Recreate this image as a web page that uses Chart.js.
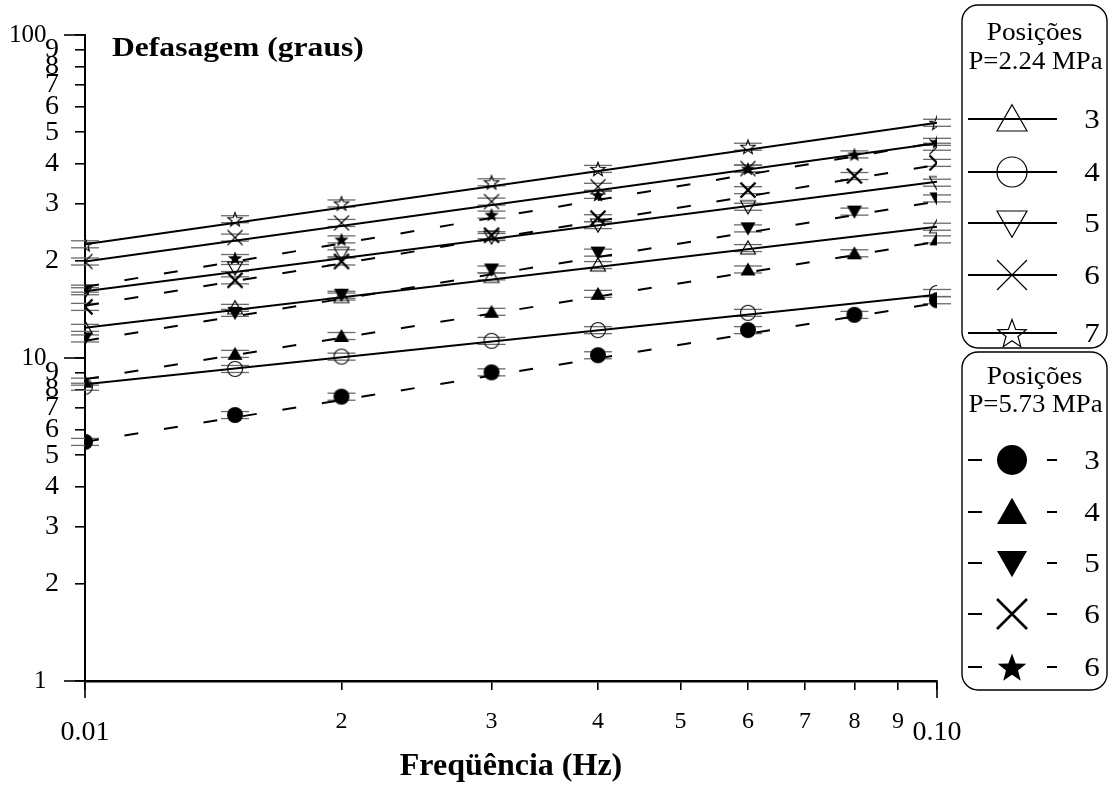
<!DOCTYPE html>
<html><head><meta charset="utf-8">
<script src="https://cdn.jsdelivr.net/npm/chart.js@4/dist/chart.umd.min.js"></script>
<style>html,body{margin:0;padding:0;background:#fff;}canvas{display:block;}</style>
</head><body>
<canvas id="c" width="1110" height="787"></canvas>
<script>
// ---------------- DATA ----------------
const FREQ_OPEN   = [0.01, 0.015, 0.02, 0.03, 0.04, 0.06, 0.10];
const FREQ_FILLED = [0.01, 0.015, 0.02, 0.03, 0.04, 0.06, 0.08, 0.10];
const FIT_FREQ    = [0.01, 0.10];

// P = 2.24 MPa (open symbols)
const P224_POS3 = [12.4, 14.3, 15.5, 17.9, 19.4, 21.9, 25.5];
const P224_POS4 = [8.15, 9.25, 10.1, 11.3, 12.2, 13.8, 15.9];
const P224_POS5 = [16.1, 19.0, 21.1, 23.7, 25.8, 29.4, 34.9];
const P224_POS6 = [19.9, 23.6, 26.2, 30.5, 33.9, 38.6, 45.1];
const P224_POS7 = [22.5, 26.9, 30.1, 35.0, 38.5, 45.1, 53.5];
const P224_FIT3 = [12.4, 25.5];
const P224_FIT4 = [8.3, 15.7];
const P224_FIT5 = [16.1, 35.1];
const P224_FIT6 = [19.9, 46.2];
const P224_FIT7 = [22.5, 53.5];

// P = 5.73 MPa (filled symbols)
const P573_POS3  = [5.5, 6.66, 7.59, 9.03, 10.2, 12.2, 13.6, 15.1];
const P573_POS4  = [8.45, 10.3, 11.7, 13.9, 15.8, 18.8, 21.1, 23.3];
const P573_POS5  = [11.5, 13.8, 15.7, 18.8, 21.2, 25.2, 28.4, 31.2];
const P573_POS6  = [14.4, 17.4, 19.9, 24.0, 27.1, 33.1, 36.6, 40.2];
const P573_POS6B = [16.4, 20.4, 23.3, 27.8, 32.0, 38.6, 42.7, 46.7];
const P573_FIT3  = [5.5, 14.8];
const P573_FIT4  = [8.6, 22.9];
const P573_FIT5  = [11.3, 30.5];
const P573_FIT6  = [14.5, 39.6];
const P573_FIT6B = [16.6, 46.5];

const ERROR_FRACTION = 0.025;

const X_TICKS = [0.01, 0.02, 0.03, 0.04, 0.05, 0.06, 0.07, 0.08, 0.09, 0.10];
const X_TICK_LABELS = ['0.01', '2', '3', '4', '5', '6', '7', '8', '9', '0.10'];
const Y_TICKS = [1, 2, 3, 4, 5, 6, 7, 8, 9, 10, 20, 30, 40, 50, 60, 70, 80, 90, 100];
const Y_TICK_LABELS = ['1', '2', '3', '4', '5', '6', '7', '8', '9', '10', '2', '3', '4', '5', '6', '7', '8', '9', '100'];

const X_TITLE = 'Freqüência (Hz)';
const Y_TITLE = 'Defasagem (graus)';
const LEGEND1_TITLE = ['Posições', 'P=2.24 MPa'];
const LEGEND2_TITLE = ['Posições', 'P=5.73 MPa'];
const LEGEND1_LABELS = ['3', '4', '5', '6', '7'];
const LEGEND2_LABELS = ['3', '4', '5', '6', '6'];

// ---------------- STYLE ----------------
const SERIF = '"Liberation Serif", "Times New Roman", serif';
const OPEN_SERIES = [
  {vals: P224_POS3, fit: P224_FIT3, kind: 'tri',  filled: false},
  {vals: P224_POS4, fit: P224_FIT4, kind: 'circ', filled: false},
  {vals: P224_POS5, fit: P224_FIT5, kind: 'dtri', filled: false},
  {vals: P224_POS6, fit: P224_FIT6, kind: 'x',    filled: false},
  {vals: P224_POS7, fit: P224_FIT7, kind: 'star', filled: false},
];
const FILLED_SERIES = [
  {vals: P573_POS3,  fit: P573_FIT3,  kind: 'circ', filled: true},
  {vals: P573_POS4,  fit: P573_FIT4,  kind: 'tri',  filled: true},
  {vals: P573_POS5,  fit: P573_FIT5,  kind: 'dtri', filled: true},
  {vals: P573_POS6,  fit: P573_FIT6,  kind: 'x',    filled: true},
  {vals: P573_POS6B, fit: P573_FIT6B, kind: 'star', filled: true},
];

function drawSym(ctx, kind, filled, cx, cy, r, lw) {
  ctx.save();
  ctx.lineWidth = lw; ctx.strokeStyle = '#000'; ctx.fillStyle = '#000';
  ctx.lineJoin = 'miter';
  ctx.beginPath();
  if (kind === 'tri') {
    ctx.moveTo(cx, cy - r * 0.95); ctx.lineTo(cx + r, cy + r * 0.8); ctx.lineTo(cx - r, cy + r * 0.8); ctx.closePath();
  } else if (kind === 'dtri') {
    ctx.moveTo(cx, cy + r * 0.95); ctx.lineTo(cx + r, cy - r * 0.8); ctx.lineTo(cx - r, cy - r * 0.8); ctx.closePath();
  } else if (kind === 'circ') {
    ctx.arc(cx, cy, r, 0, Math.PI * 2);
  } else if (kind === 'x') {
    ctx.moveTo(cx - r, cy - r); ctx.lineTo(cx + r, cy + r);
    ctx.moveTo(cx + r, cy - r); ctx.lineTo(cx - r, cy + r);
  } else if (kind === 'star') {
    for (let k = 0; k < 10; k++) {
      const a = -Math.PI / 2 + k * Math.PI / 5;
      const rr = (k % 2) ? r * 0.42 : r;
      const px = cx + rr * Math.cos(a), py = cy + rr * Math.sin(a) + r * 0.1;
      if (k === 0) ctx.moveTo(px, py); else ctx.lineTo(px, py);
    }
    ctx.closePath();
  }
  if (kind === 'x' || !filled) ctx.stroke(); else ctx.fill();
  ctx.restore();
}

function symCanvas(kind, filled) {
  const r = kind === 'circ' && filled ? 8 : 7.5;
  const s = 22;
  const cv = document.createElement('canvas');
  cv.width = s; cv.height = s;
  const ctx = cv.getContext('2d');
  const lw = kind === 'x' ? (filled ? 2.4 : 1.1) : 1.1;
  drawSym(ctx, kind, filled, s / 2, s / 2, r, lw);
  return cv;
}

// ---------------- DATASETS ----------------
const datasets = [];
[...FILLED_SERIES, ...OPEN_SERIES].forEach(s => {
  const xs = s.filled ? FREQ_FILLED : FREQ_OPEN;
  datasets.push({
    type: 'line',
    data: s.vals.map((v, i) => ({x: xs[i], y: v})),
    showLine: false,
    pointStyle: symCanvas(s.kind, s.filled),
    pointRadius: 8,
    errorCaps: true,
  });
});
[...OPEN_SERIES, ...FILLED_SERIES].forEach(s => {
  datasets.push({
    type: 'line',
    data: s.fit.map((v, i) => ({x: FIT_FREQ[i], y: v})),
    showLine: true,
    borderColor: '#000',
    borderWidth: 2,
    borderDash: s.filled ? [14, 26] : [],
    pointRadius: 0,
    fill: false,
  });
});

function isPow10(v) { const l = Math.log10(v); return Math.abs(l - Math.round(l)) < 1e-9; }

function stretchText(ctx, text, x, y, font, align, sx) {
  ctx.save();
  ctx.font = font; ctx.fillStyle = '#000';
  ctx.textAlign = align; ctx.textBaseline = 'middle';
  ctx.translate(x, y); ctx.scale(sx, 1);
  ctx.fillText(text, 0, 0);
  ctx.restore();
}

const decorPlugin = {
  id: 'decor',
  beforeDatasetsDraw(chart) {
    const ctx = chart.ctx, ys = chart.scales.y;
    ctx.save();
    ctx.strokeStyle = '#6a6a6a'; ctx.lineWidth = 1.3;
    chart.data.datasets.forEach((ds, i) => {
      if (!ds.errorCaps) return;
      const meta = chart.getDatasetMeta(i);
      meta.data.forEach((pt, j) => {
        const v = ds.data[j].y;
        [v * (1 + ERROR_FRACTION), v * (1 - ERROR_FRACTION)].forEach(e => {
          const py = ys.getPixelForValue(e);
          ctx.beginPath(); ctx.moveTo(pt.x - 14, py); ctx.lineTo(pt.x + 14, py); ctx.stroke();
        });
      });
    });
    ctx.restore();
  },
  afterDraw(chart) {
    const ctx = chart.ctx, xs = chart.scales.x, ys = chart.scales.y;
    const area = chart.chartArea;
    ctx.save();
    ctx.strokeStyle = '#000'; ctx.lineWidth = 1.6;
    // longer major ticks
    X_TICKS.filter(isPow10).forEach(v => {
      const px = xs.getPixelForValue(v);
      ctx.beginPath(); ctx.moveTo(px, area.bottom); ctx.lineTo(px, area.bottom + 17); ctx.stroke();
    });
    Y_TICKS.filter(isPow10).forEach(v => {
      const py = ys.getPixelForValue(v);
      ctx.beginPath(); ctx.moveTo(area.left, py); ctx.lineTo(area.left - 21, py); ctx.stroke();
    });
    ctx.restore();

    // y title inside plot
    stretchText(ctx, Y_TITLE, area.left + 27, area.top + 14, 'bold 27px ' + SERIF, 'left', 1.17);

    // legends
    const boxes = [
      {top: 5, bottom: 348, title: LEGEND1_TITLE, labels: LEGEND1_LABELS, series: OPEN_SERIES,
       titleY: [33, 62], rows: [119, 172, 223, 275, 333]},
      {top: 352, bottom: 690, title: LEGEND2_TITLE, labels: LEGEND2_LABELS, series: FILLED_SERIES,
       titleY: [377, 405], rows: [460, 512, 563, 614, 667]},
    ];
    const bl = 962, br = 1107, cx = (bl + br) / 2;
    boxes.forEach(b => {
      ctx.save();
      ctx.strokeStyle = '#000'; ctx.lineWidth = 1.4;
      ctx.beginPath(); ctx.roundRect(bl, b.top, br - bl, b.bottom - b.top, 16); ctx.stroke();
      ctx.restore();
      stretchText(ctx, b.title[0], cx, b.titleY[0], '26px ' + SERIF, 'center', 1.05);
      stretchText(ctx, b.title[1], cx + 1, b.titleY[1], '26px ' + SERIF, 'center', 1.03);
      b.series.forEach((s, k) => {
        const y = b.rows[k];
        ctx.save();
        ctx.strokeStyle = '#000'; ctx.lineWidth = 2;
        ctx.beginPath();
        if (s.filled) {
          ctx.moveTo(968, y); ctx.lineTo(982, y);
          ctx.moveTo(1047, y); ctx.lineTo(1057, y);
        } else {
          ctx.moveTo(968, y); ctx.lineTo(1057, y);
        }
        ctx.stroke();
        ctx.restore();
        const lw = s.kind === 'x' ? (s.filled ? 2.6 : 1.2) : 1.2;
        drawSym(ctx, s.kind, s.filled, 1012, y, 15, lw);
        stretchText(ctx, b.labels[k], 1092, y + 2, '27px ' + SERIF, 'center', 1.15);
      });
    });
  }
};

Chart.defaults.font.family = SERIF;
Chart.defaults.color = '#000';

new Chart(document.getElementById('c'), {
  type: 'line',
  data: {datasets},
  options: {
    responsive: false,
    animation: false,
    devicePixelRatio: 1,
    layout: {padding: {top: 35, right: 173, left: 0, bottom: 0}},
    plugins: {legend: {display: false}, tooltip: {enabled: false}},
    scales: {
      x: {
        type: 'logarithmic', position: 'bottom', min: 0.01, max: 0.1,
        afterBuildTicks: s => { s.ticks = X_TICKS.map(v => ({value: v})); },
        afterFit: s => { s.height = 106; },
        border: {display: true, color: '#000', width: 2.5},
        grid: {display: true, drawOnChartArea: false, drawTicks: true, tickLength: 9, color: '#000', lineWidth: 1.6},
        ticks: {
          autoSkip: false, maxRotation: 0, minRotation: 0, padding: 17,
          callback: (v, i) => X_TICK_LABELS[i],
          font: c => (c.index === 0 || c.index === X_TICKS.length - 1)
            ? {size: 28, lineHeight: 1.8, family: SERIF}
            : {size: 24, lineHeight: 1.2, family: SERIF},
        },
        title: {display: true, text: X_TITLE, font: {size: 32, weight: 'bold', family: SERIF}, padding: {top: 0, bottom: 1}},
      },
      y: {
        type: 'logarithmic', position: 'left', min: 1, max: 100,
        afterBuildTicks: s => { s.ticks = Y_TICKS.map(v => ({value: v})); },
        afterFit: s => { s.width = 85; },
        border: {display: true, color: '#000', width: 2},
        grid: {display: true, drawOnChartArea: false, drawTicks: true, tickLength: 10, color: '#000', lineWidth: 1.6},
        ticks: {
          autoSkip: false, padding: 16,
          callback: (v, i) => isPow10(Y_TICKS[i]) ? Y_TICK_LABELS[i] + '\u2002' : Y_TICK_LABELS[i],
          font: c => isPow10(Y_TICKS[c.index] || 1) ? {size: 25, family: SERIF} : {size: 28, family: SERIF},
        },
      },
    },
  },
  plugins: [decorPlugin],
});
</script>
</body></html>
